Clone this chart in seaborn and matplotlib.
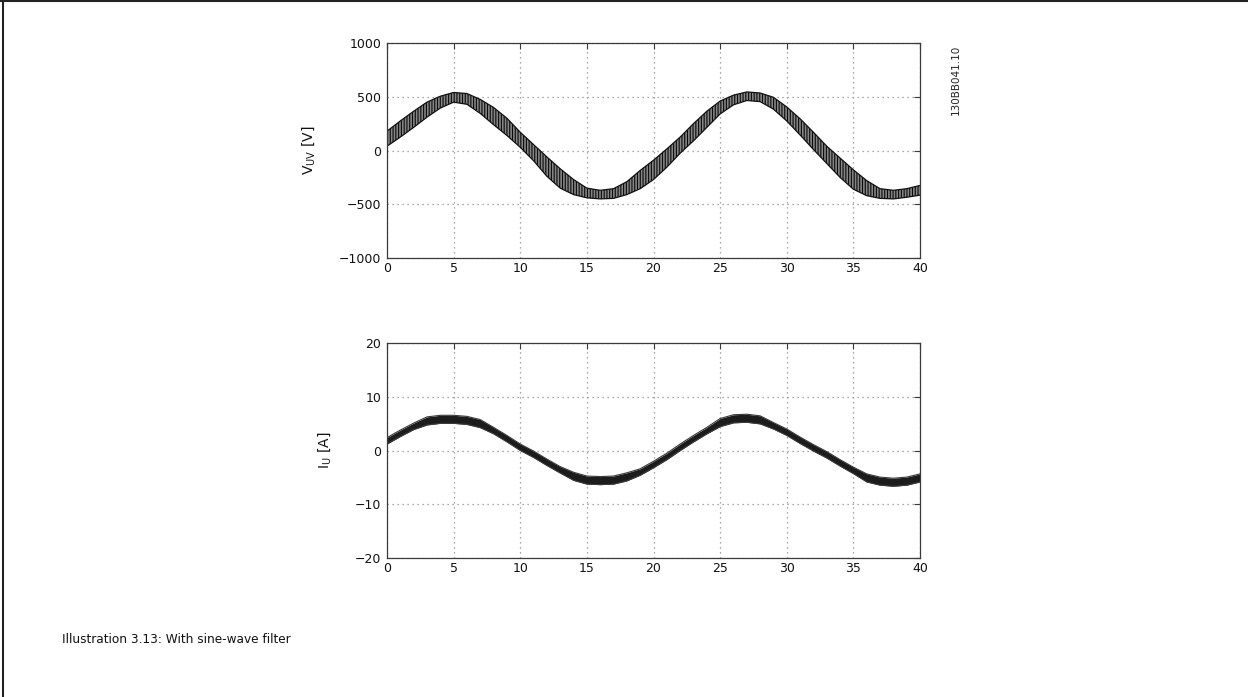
import matplotlib
matplotlib.use("Agg")
import matplotlib.pyplot as plt
from matplotlib.lines import Line2D
import pandas as pd
import seaborn as sns

# time axis in ms
time_ms = list(range(0, 41))

# line-to-line voltage: band centre and ripple half-width [V]
v_uv_mid = [110, 200, 290, 380, 450, 495, 480, 410, 320, 220,
            100, -20, -150, -260, -340, -395, -410, -400, -350, -270,
            -180, -70, 50, 170, 290, 400, 470, 505, 495, 440,
            340, 220, 90, -40, -160, -270, -350, -400, -410, -395,
            -370]
v_uv_ripple = [70, 75, 75, 70, 55, 45, 50, 65, 80, 80,
               70, 75, 90, 90, 70, 45, 40, 45, 60, 85,
               90, 85, 75, 80, 75, 60, 45, 40, 40, 55,
               65, 75, 80, 80, 90, 90, 70, 45, 40, 40,
               45]

# phase current: band centre and ripple half-width [A]
i_u_mid = [1.8, 3.2, 4.5, 5.5, 5.8, 5.8, 5.6, 5.0, 3.7, 2.2,
           0.6, -0.7, -2.2, -3.6, -4.8, -5.5, -5.6, -5.5, -4.9, -4.0,
           -2.6, -1.1, 0.6, 2.2, 3.7, 5.2, 5.9, 6.0, 5.7, 4.6,
           3.4, 1.9, 0.5, -0.8, -2.3, -3.7, -5.1, -5.7, -5.9, -5.7,
           -5.1]
i_u_ripple = [0.6] * 3 + [0.75] * 5 + [0.6] * 6 + [0.75] * 5 + [0.6] * 6 + [0.75] * 4 + [0.6] * 7 + [0.75] * 5

v_ticks = [-1000, -500, 0, 500, 1000]
i_ticks = [-20, -10, 0, 10, 20]
t_ticks = [0, 5, 10, 15, 20, 25, 30, 35, 40]

sns.set_style("white")
plt.rcParams["font.family"] = ["DejaVu Sans"]
plt.rcParams["hatch.linewidth"] = 0.8

df_v = pd.DataFrame({"t": time_ms, "mid": v_uv_mid, "rip": v_uv_ripple})
df_v["lo"] = df_v["mid"] - df_v["rip"]
df_v["hi"] = df_v["mid"] + df_v["rip"]
df_i = pd.DataFrame({"t": time_ms, "mid": i_u_mid, "rip": i_u_ripple})
df_i["lo"] = df_i["mid"] - df_i["rip"]
df_i["hi"] = df_i["mid"] + df_i["rip"]

fig = plt.figure(figsize=(12.48, 6.97), dpi=100)
ax_v = fig.add_axes([0.3101, 0.6298, 0.4271, 0.3085])
ax_i = fig.add_axes([0.3101, 0.1994, 0.4271, 0.3085])


def style_axes(ax, yticks, ylabel):
    ax.set_xlim(0, 40)
    ax.set_ylim(yticks[0], yticks[-1])
    ax.set_xticks(t_ticks)
    ax.set_yticks(yticks)
    ax.grid(True, color="#8c8c8c", linestyle=(0, (1, 3)), linewidth=0.9)
    ax.set_axisbelow(True)
    for sp in ax.spines.values():
        sp.set_color("#3a3a3a")
        sp.set_linewidth(0.9)
        sp.set_visible(True)
    ax.tick_params(direction="in", length=4, width=0.8, color="#3a3a3a",
                   top=True, right=True, labelsize=9, labelcolor="#111111",
                   pad=4)
    ax.tick_params(axis="x", pad=3)
    ax.set_xlabel("")
    ax.set_ylabel(ylabel, fontsize=10, color="#111111", labelpad=16)


# voltage: ripple band drawn as dense vertical strokes
ax_v.fill_between(df_v["t"], df_v["lo"], df_v["hi"], facecolor="#858585",
                  edgecolor="#0a0a0a", hatch="||||||", linewidth=0)
sns.lineplot(data=df_v, x="t", y="hi", ax=ax_v, color="#111111", lw=0.9)
sns.lineplot(data=df_v, x="t", y="lo", ax=ax_v, color="#111111", lw=0.9)
style_axes(ax_v, v_ticks, r"V$_{\mathrm{UV}}$ [V]")

# current: narrow dark band
ax_i.fill_between(df_i["t"], df_i["lo"], df_i["hi"], facecolor="#1c1c1c",
                  edgecolor="#000000", linewidth=0)
sns.lineplot(data=df_i, x="t", y="hi", ax=ax_i, color="#3a3a3a", lw=0.8)
sns.lineplot(data=df_i, x="t", y="lo", ax=ax_i, color="#3a3a3a", lw=0.8)
style_axes(ax_i, i_ticks, r"I$_{\mathrm{U}}$ [A]")

# drawing number beside the upper plot
fig.text(0.7655, 0.885, "130BB041.10", rotation=90, fontsize=7.5,
         color="#222222", ha="center", va="center")

# caption
fig.text(0.0497, 0.082, "Illustration 3.13: With sine-wave filter",
         fontsize=8.7, color="#111111", ha="left", va="center")

# page frame (top and left edges)
fig.add_artist(Line2D([0, 1], [0.999, 0.999], transform=fig.transFigure,
                      color="#222222", lw=1.5))
fig.add_artist(Line2D([0.0022, 0.0022], [0, 1], transform=fig.transFigure,
                      color="#222222", lw=1.5))

fig.savefig("out.png", dpi=100, facecolor="white")
